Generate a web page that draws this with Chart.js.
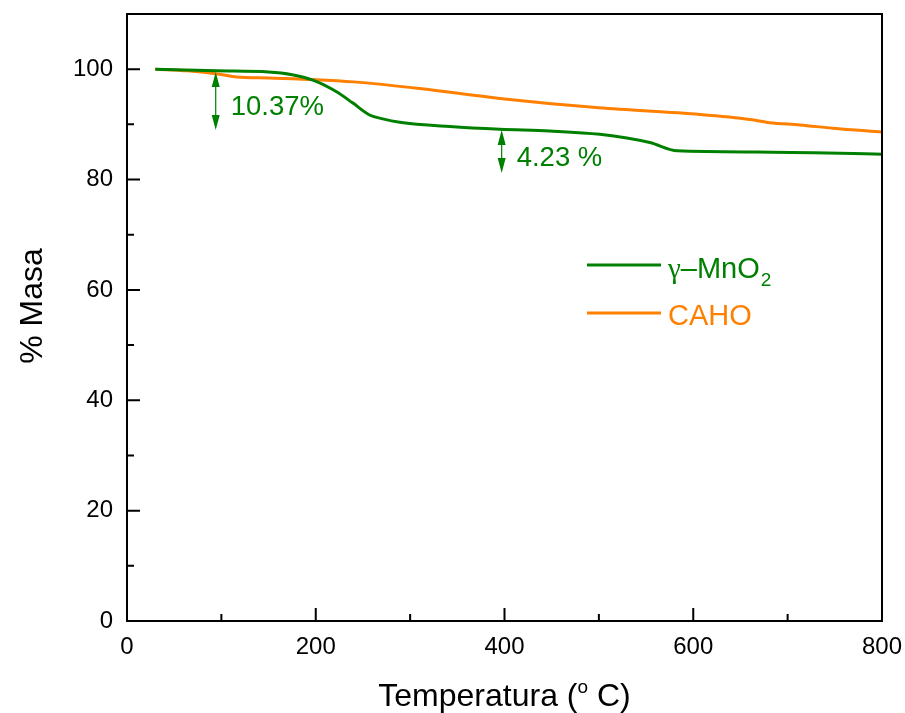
<!DOCTYPE html>
<html>
<head>
<meta charset="utf-8">
<script src="https://cdn.jsdelivr.net/npm/chart.js@4.4.1/dist/chart.umd.min.js"></script>
<style>
html, body { margin: 0; padding: 0; background: #fff; }
</style>
</head>
<body>
<canvas id="tga" width="905" height="713"></canvas>
<script>
// Datos TGA

const tempMnO2 = [30, 95, 150, 175, 197, 222, 239, 257, 271, 289, 342, 395, 448, 501, 554, 583, 667, 800]
const masaMnO2 = [100, 99.7, 99.5, 99.0, 98.0, 95.9, 93.9, 91.7, 91.0, 90.4, 89.6, 89.1, 88.8, 88.2, 86.7, 85.2, 85.0, 84.6]

const tempCAHO = [30, 64, 98, 116, 150, 200, 240, 310, 395, 500, 607, 660, 681, 713, 748, 800]
const masaCAHO = [100, 99.7, 99.1, 98.6, 98.4, 98.1, 97.7, 96.5, 94.7, 93.0, 91.8, 90.9, 90.3, 89.9, 89.3, 88.6]

const xTicks = [0, 200, 400, 600, 800]
const yTicks = [0, 20, 40, 60, 80, 100]

// flechas de pérdida de masa (temperatura, desde, hasta, etiqueta)
const flechaTemp = [94, 397]
const flechaDesde = [99.5, 89.0]
const flechaHasta = [89.0, 81.2]
const flechaTexto = ['10.37%', '4.23 %']

const VERDE = '#008000'
const NARANJA = '#ff8000'
const FUENTE = '"Liberation Sans", Arial, sans-serif'
const SERIF = '"Liberation Serif", "Times New Roman", serif'

const puntos = (xs, ys) => xs.map((t, i) => ({ x: t, y: ys[i] }))

// sin relleno extra de las etiquetas, el área queda fija
const sinRelleno = s => {
    s.paddingTop = 0
    s.paddingBottom = 0
    s.paddingLeft = 0
    s.paddingRight = 0
}

// Marco, ticks hacia adentro, flechas, leyenda y títulos
const extras = {
    id: 'extras',
    afterDraw(chart) {
        const { ctx, chartArea: a, scales: { x, y } } = chart
        ctx.save()

        // marco
        ctx.strokeStyle = '#000'
        ctx.lineWidth = 2
        ctx.strokeRect(a.left, a.top, a.right - a.left, a.bottom - a.top)

        ctx.beginPath()
        for (let v = 100; v < 800; v += 100) {
            const px = x.getPixelForValue(v)
            const len = v % 200 ? 7 : 13
            ctx.moveTo(px, a.bottom)
            ctx.lineTo(px, a.bottom - len)
        }
        for (let v = 10; v < 110; v += 10) {
            const py = y.getPixelForValue(v)
            const len = v % 20 ? 7 : 13
            ctx.moveTo(a.left, py)
            ctx.lineTo(a.left + len, py)
        }
        ctx.stroke()

        // flechas dobles
        ctx.strokeStyle = VERDE
        ctx.fillStyle = VERDE
        ctx.lineWidth = 1.2
        flechaTemp.forEach((t, i) => {
            const px = x.getPixelForValue(t)
            const y1 = y.getPixelForValue(flechaDesde[i])
            const y2 = y.getPixelForValue(flechaHasta[i])
            const h = 15, w = 4
            ctx.beginPath()
            ctx.moveTo(px, y1 + h - 2)
            ctx.lineTo(px, y2 - h + 2)
            ctx.stroke()
            ctx.beginPath()
            ctx.moveTo(px, y1)
            ctx.lineTo(px - w, y1 + h)
            ctx.lineTo(px + w, y1 + h)
            ctx.closePath()
            ctx.moveTo(px, y2)
            ctx.lineTo(px - w, y2 - h)
            ctx.lineTo(px + w, y2 - h)
            ctx.closePath()
            ctx.fill()

            ctx.font = '27.5px ' + FUENTE
            ctx.textAlign = 'left'
            ctx.textBaseline = 'middle'
            ctx.fillText(flechaTexto[i], px + 15, (y1 + y2) / 2 + 7)
        })

        // leyenda
        const filas = [
            { color: VERDE, py: 265 },
            { color: NARANJA, py: 313 }
        ]
        ctx.lineWidth = 3
        filas.forEach(f => {
            ctx.strokeStyle = f.color
            ctx.beginPath()
            ctx.moveTo(587, f.py)
            ctx.lineTo(661, f.py)
            ctx.stroke()
        })
        ctx.textBaseline = 'alphabetic'
        ctx.fillStyle = VERDE
        let tx = 668
        ctx.font = '29px ' + SERIF
        ctx.fillText('γ', tx, 278)
        tx += ctx.measureText('γ').width
        ctx.font = '29px ' + FUENTE
        ctx.fillText('–MnO', tx, 278)
        tx += ctx.measureText('–MnO').width
        ctx.font = '19px ' + FUENTE
        ctx.fillText('2', tx + 1, 286)
        ctx.fillStyle = NARANJA
        ctx.font = '29px ' + FUENTE
        ctx.fillText('CAHO', 668, 325)

        // título eje x con superíndice
        ctx.fillStyle = '#000'
        const partes = [['Temperatura (', 32, 0], ['o', 19, -13], [' C)', 32, 0]]
        let ancho = 0
        partes.forEach(p => { ctx.font = p[1] + 'px ' + FUENTE; ancho += ctx.measureText(p[0]).width })
        let cx = (a.left + a.right) / 2 - ancho / 2
        ctx.textAlign = 'left'
        partes.forEach(p => {
            ctx.font = p[1] + 'px ' + FUENTE
            ctx.fillText(p[0], cx, 706 + p[2])
            cx += ctx.measureText(p[0]).width
        })

        // título eje y
        ctx.translate(33, 306)
        ctx.rotate(-Math.PI / 2)
        ctx.font = '32px ' + FUENTE
        ctx.textAlign = 'center'
        ctx.textBaseline = 'middle'
        ctx.fillText('% Masa', 0, 0)

        ctx.restore()
    }
}

const ctx = document.getElementById('tga').getContext('2d')

const chart = new Chart(ctx, {
    type: 'line',
    data: {
        datasets: [{
            label: 'γ–MnO2',
            data: puntos(tempMnO2, masaMnO2),
            borderColor: VERDE,
            borderWidth: 3,
            pointRadius: 0,
            cubicInterpolationMode: 'monotone'
        }, {
            label: 'CAHO',
            data: puntos(tempCAHO, masaCAHO),
            borderColor: NARANJA,
            borderWidth: 3,
            pointRadius: 0,
            cubicInterpolationMode: 'monotone'
        }]
    },
    options: {
        responsive: false,
        animation: false,
        layout: { padding: { top: 14, right: 23, left: 0, bottom: 0 } },
        plugins: {
            legend: { display: false },
            tooltip: { enabled: false }
        },
        scales: {
            x: {
                type: 'linear',
                min: 0,
                max: 800,
                grid: { display: false, drawTicks: false },
                border: { display: false },
                afterBuildTicks: s => { s.ticks = xTicks.map(v => ({ value: v })) },
                afterFit: s => { s.height = 92; sinRelleno(s) },
                ticks: {
                    color: '#000',
                    padding: 12,
                    maxRotation: 0,
                    font: { family: FUENTE, size: 24 }
                }
            },
            y: {
                min: 0,
                max: 110,
                grid: { display: false, drawTicks: false },
                border: { display: false },
                afterBuildTicks: s => { s.ticks = yTicks.map(v => ({ value: v })) },
                afterFit: s => { s.width = 127; sinRelleno(s) },
                ticks: {
                    color: '#000',
                    padding: 14,
                    font: { family: FUENTE, size: 24 }
                }
            }
        }
    },
    plugins: [extras]
})
</script>
</body>
</html>
